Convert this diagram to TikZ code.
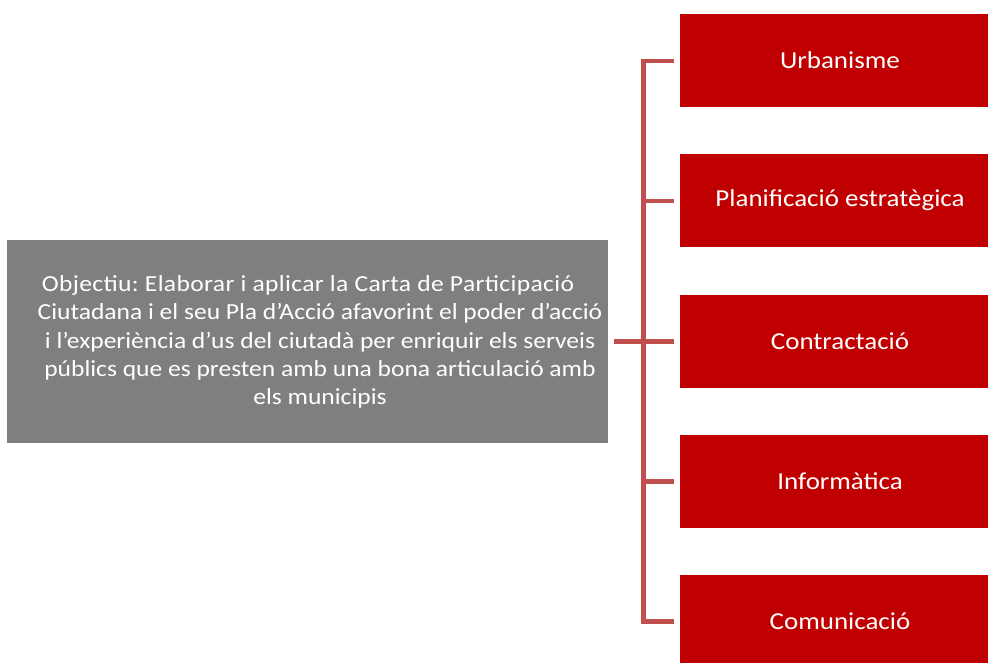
\documentclass[tikz,border=0pt]{standalone}
\usepackage{fontspec}
\setmainfont{Carlito}
\newfontfamily\widefont[FakeStretch=1.11]{Carlito}
\newfontfamily\widefontls[FakeStretch=1.11,LetterSpace=1.6]{Carlito}
\definecolor{boxred}{HTML}{C00000}
\definecolor{boxgray}{HTML}{7F7F7F}
\definecolor{linered}{HTML}{C0504D}
\frenchspacing
\begin{document}
\begin{tikzpicture}[x=1pt,y=-1pt,
  redbox/.style={fill=boxred,draw=none,minimum width=320pt,minimum height=93pt,inner sep=0pt,anchor=north west},
  redlabel/.style={text=white,font=\widefont\fontsize{24.3}{28}\selectfont},
  graybox/.style={fill=boxgray,draw=none,minimum width=601pt,minimum height=203pt,inner sep=0pt,anchor=north west},
  conn/.style={draw=linered,line width=4.7pt}]
\useasboundingbox (0,0) rectangle (988,663);
\clip (0,0) rectangle (988,663);
\node[graybox] (g) at (7,240) {};
\node[text=white,align=center,inner sep=0pt,font=\widefont\fontsize{23}{28.3}\selectfont] (gt) at (320,342) {{\widefontls Objectiu: Elaborar i aplicar la Carta de Participació}\hspace*{24pt}\\Ciutadana i el seu Pla d’Acció afavorint el poder d’acció\\i l’experiència d’us del ciutadà per enriquir els serveis\\públics que es presten amb una bona articulació amb\\els municipis};
\node[redbox] (r1) at (680,14) {};
\node[redbox] (r2) at (680,154) {};
\node[redbox] (r3) at (680,295) {};
\node[redbox] (r4) at (680,435) {};
\node[redbox] (r5) at (680,575) {};
\node[redlabel] (t1) at (840,60.5) {Urbanisme};
\node[redlabel] (t2) at (840,200.5) {Planificació estratègica};
\node[redlabel] (t3) at (840,341.5) {Contractació};
\node[redlabel] (t4) at (840,481.5) {Informàtica};
\node[redlabel] (t5) at (840,621.5) {Comunicació};
\coordinate (bus) at (643.7,0);
\coordinate (e1) at (674,61);
\coordinate (e5) at (674,621.7);
\draw[conn] (e1) -- (e1 -| bus) -- (e5 -| bus) -- (e5);
\draw[conn] (g.east |- 0,341.3) ++(6,0) coordinate (gs) -- (674,341.3) coordinate (e3);
\coordinate (e2) at (674,201);
\coordinate (e4) at (674,481.5);
\draw[conn] (e2 -| bus) -- (e2);
\draw[conn] (e4 -| bus) -- (e4);
\end{tikzpicture}
\end{document}
